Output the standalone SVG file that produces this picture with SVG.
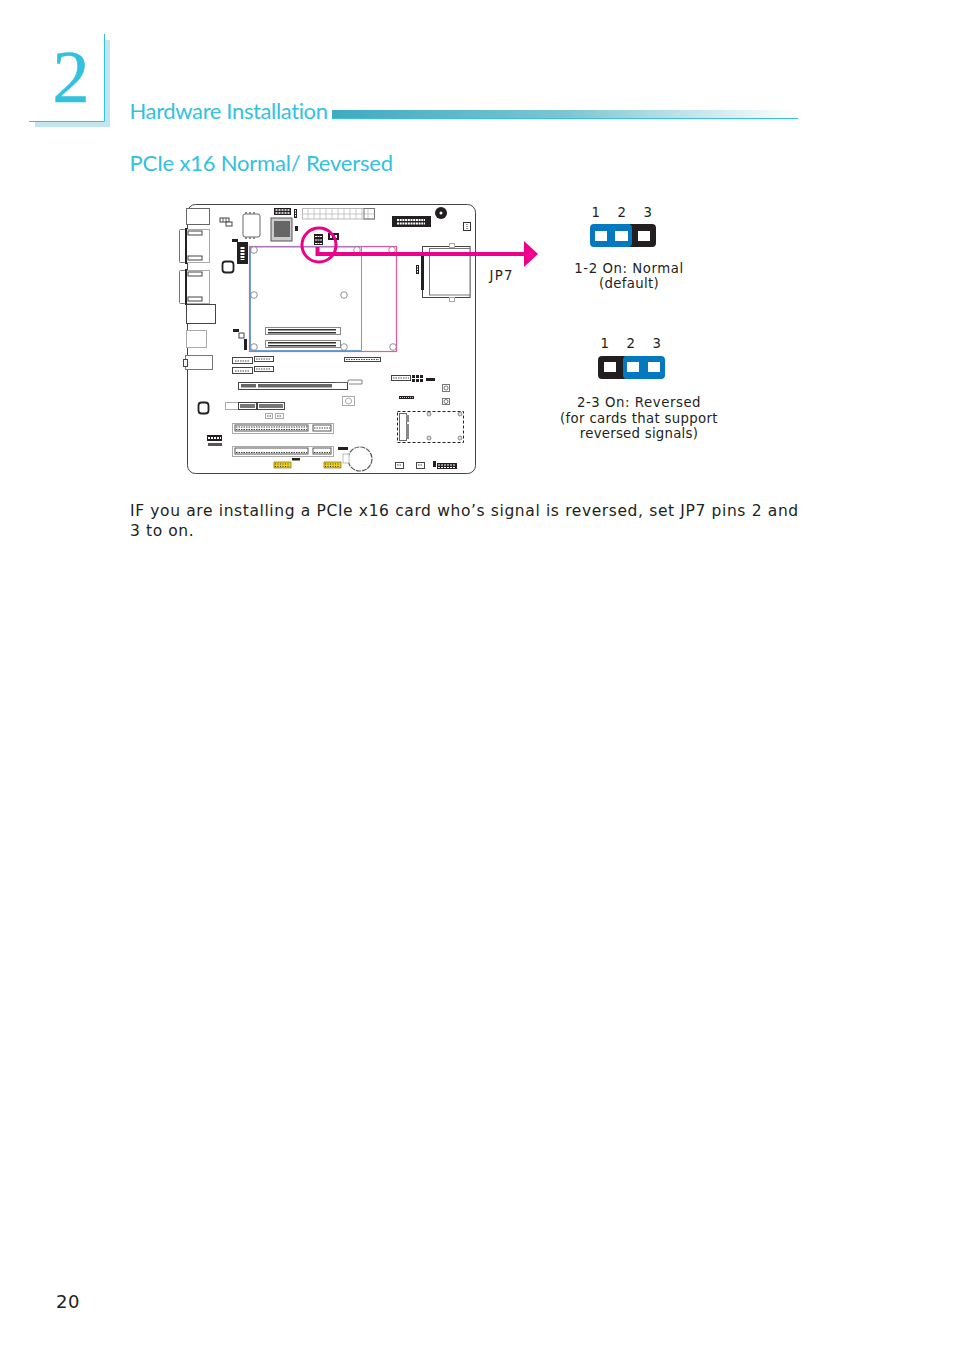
<svg xmlns="http://www.w3.org/2000/svg" width="954" height="1350" viewBox="0 0 954 1350">
<style>
.t{font-family:"DejaVu Sans","Liberation Sans",sans-serif;fill:#231f20;font-size:13.3px;letter-spacing:.55px}
.m{text-anchor:middle}
.h{font-family:Lato,"Open Sans",sans-serif;fill:#33c1de;font-variant-ligatures:none;font-weight:400}
.o{fill:#fff;stroke:#444;stroke-width:1}
.g{fill:#fff;stroke:#aaa;stroke-width:1}
.b{fill:#231f20}
.w{fill:#fff}
.y{fill:#f2d21b;stroke:#5a5012;stroke-width:.6}
.d{fill:none;stroke:#fff;stroke-width:2;stroke-dasharray:2 1}
.yd{fill:none;stroke:#3a3410;stroke-width:1;stroke-dasharray:1 1.500}
.s{fill:none;stroke:#444;stroke-width:1;stroke-dasharray:1.500 1}
.c{fill:#fff;stroke:#555;stroke-width:1}
.sl{fill:#fff;stroke:#444;stroke-width:1.400}
</style>
<defs>
<linearGradient id="bar" x1="0" x2="1" y1="0" y2="0">
<stop offset="0" stop-color="#3fabbf"/><stop offset=".5" stop-color="#7cc5d3"/><stop offset="1" stop-color="#fff"/>
</linearGradient>
</defs>

<g id="chapter-mark">
<rect x="105" y="40" width="5" height="87" fill="#c2e6f0"/>
<rect x="35" y="122" width="75" height="5" fill="#c2e6f0"/>
<path d="M104.500 34V121.500H29" fill="none" stroke="#33c1de" stroke-width="1"/>
<text x="52.500" y="102" font-family="Liberation Serif,serif" font-size="74" fill="#33c1de" stroke="#33c1de" stroke-width=".5">2</text>
</g>
<g id="header">
<text x="129.500" y="119" class="h" font-size="22" textLength="198.500">Hardware Installation</text>
<rect x="332" y="110" width="466" height="8" fill="url(#bar)"/>
<rect x="332" y="118" width="466" height="1" fill="#33c1de"/>
<text x="129.500" y="171" class="h" font-size="22" textLength="263.500">PCIe x16 Normal/ Reversed</text>
</g>

<g id="board">
<rect x="187.500" y="204.500" width="288" height="269" rx="8" fill="#fff" stroke="#444" stroke-width="1"/>
<rect x="186.500" y="208.500" width="23" height="16" class="o" style="stroke:#666"/>
<rect x="220" y="218" width="9" height="4" class="o"/><path d="M223 218v4M226 218v4" stroke="#444" stroke-width=".8"/><rect x="226" y="222" width="6" height="4" class="o"/>
<rect x="243" y="214" width="17" height="23" rx="2" class="o" style="stroke:#666"/>
<path d="M246 212v2M250 212v2M254 212v2M246 237v2M250 237v2M254 237v2" stroke="#888" stroke-width="2"/>
<rect x="274" y="208" width="17" height="7" class="b"/><path d="M275.500 210h14M275.500 213h14" stroke="#fff" stroke-width="1.300" stroke-dasharray="2 1"/>
<rect x="294" y="209" width="3" height="9" class="b"/><path d="M295.500 210v7" stroke="#fff" stroke-dasharray="1.500 1"/>
<rect x="271" y="218" width="21" height="23" fill="#ccc" stroke="#555"/><rect x="274" y="221" width="16" height="16" fill="#666"/>
<rect x="295" y="226" width="3" height="5" class="b"/>
<rect x="302.500" y="208.500" width="72" height="10.500" fill="#fff" stroke="#bbb"/>
<path d="M308 209v10M314 209v10M320 209v10M326 209v10M332 209v10M338 209v10M344 209v10M350 209v10M356 209v10M362 209v10M368 209v10M302 214h72" stroke="#bbb" stroke-width=".8"/>
<rect x="364" y="208.500" width="10.500" height="10.500" fill="none" stroke="#777"/>
<rect x="232" y="239" width="6" height="3" class="b"/>
<rect x="237" y="242" width="11" height="22" class="b"/><path d="M242.500 247v13" stroke="#fff" stroke-width="4" stroke-dasharray="2 1"/>
<rect x="222.500" y="261.500" width="11" height="11" rx="3" fill="#fff" stroke="#222" stroke-width="1.800"/>

<rect x="179.500" y="229.500" width="6" height="33" rx="1" class="g" style="stroke:#777"/>
<rect x="185.500" y="229.500" width="24" height="33" class="g"/>
<rect x="185" y="228" width="2" height="36" class="b"/>
<rect x="188" y="231" width="14" height="4" class="o"/><rect x="188" y="256" width="14" height="4" class="o"/>
<rect x="179.500" y="270.500" width="6" height="33" rx="1" class="g" style="stroke:#777"/>
<rect x="185.500" y="270.500" width="24" height="33" class="g"/>
<rect x="185" y="269" width="2" height="36" class="b"/>
<rect x="188" y="272" width="14" height="4" class="o"/><rect x="188" y="297" width="14" height="4" class="o"/>
<rect x="186.500" y="304.500" width="29" height="19" class="o"/>
<rect x="186.500" y="330.500" width="20" height="17" class="g"/>
<rect x="185.500" y="355.500" width="27" height="14" class="o" style="stroke:#777"/>
<rect x="183.500" y="359.500" width="4" height="7" class="o"/>

<rect x="233" y="329" width="6" height="3" class="b"/><rect x="239" y="333" width="5" height="5" class="o"/>
<rect x="244" y="339" width="3" height="11" class="b"/>
</g>

<g id="pcie-area">
<rect x="249.500" y="246.500" width="147" height="105" fill="none" stroke="#e9559f" stroke-width="1.200"/>
<path d="M250.500 350.500V247H361.500V350.500H250.500" fill="none" stroke="#6f9fd2" stroke-width="1"/>
<g fill="#fff" stroke="#777" stroke-width=".8">
<circle cx="254" cy="250" r="3.300"/><circle cx="254" cy="295" r="3.300"/><circle cx="344" cy="295" r="3.300"/><circle cx="357" cy="250" r="3.300"/><circle cx="392" cy="250" r="3.300"/><circle cx="254" cy="347" r="3.300"/><circle cx="344" cy="347" r="3.300"/><circle cx="393" cy="347" r="3.300"/>
</g>
<rect x="265.500" y="327.500" width="75" height="7" class="c" style="stroke:#888"/><rect x="268" y="329" width="68" height="1.500" fill="#333"/><rect x="268" y="332" width="68" height="1.500" fill="#333"/>
<rect x="265.500" y="340.500" width="75" height="7" class="c" style="stroke:#888"/><rect x="268" y="342" width="68" height="1.500" fill="#333"/><rect x="268" y="345" width="68" height="1.500" fill="#333"/>
</g>

<g id="jp7-pins">
<rect x="314" y="234" width="9" height="11" class="b"/>
<path d="M315 236.500h7M315 240h7M315 243.500h7" stroke="#fff" stroke-width="1.200" stroke-dasharray="2 .5"/>
<rect x="328" y="233" width="11" height="7" class="b"/><rect x="330" y="235" width="2" height="3" class="w"/><rect x="335" y="235" width="2" height="3" class="w"/>
</g>

<g id="board-right">
<rect x="392" y="216" width="39" height="11" class="b"/><path d="M397 220h28M397 223.500h28" stroke="#fff" stroke-width="2" stroke-dasharray="2 .7"/>
<circle cx="441" cy="213" r="6" class="b"/><circle cx="441" cy="213" r="1.500" class="w"/>
<rect x="463.500" y="222.500" width="7" height="8" class="o" style="stroke:#333"/><path d="M467 224v5" stroke="#333" stroke-dasharray="1 1"/>
<rect x="422.500" y="246.500" width="47.500" height="51" fill="#fff" stroke="#444"/>
<rect x="429.500" y="248.500" width="40.500" height="46.500" fill="#fff" stroke="#777"/>
<rect x="421" y="256" width="3" height="34" class="b"/>
<rect x="449.500" y="243.500" width="5" height="4" class="g"/><rect x="449.500" y="297.500" width="5" height="4" class="g"/>
<rect x="416" y="265" width="3" height="9" class="b"/><path d="M417.500 266v7" stroke="#fff" stroke-dasharray="1.500 1"/>
</g>

<g id="slots">
<rect x="232.500" y="357.500" width="20" height="6" class="o"/><path class="s" d="M235 361h15"/>
<rect x="254.500" y="356.500" width="19" height="5" class="o"/><path class="s" d="M256 359h15"/>
<rect x="232.500" y="367.500" width="20" height="6" class="o"/><path class="s" d="M235 371h15"/>
<rect x="254.500" y="366.500" width="19" height="5" class="o"/><path class="s" d="M256 369h15"/>
<rect x="344.500" y="357.500" width="36" height="4" class="o"/><path class="s" d="M346 359.500h33"/>
<rect x="238.500" y="382.500" width="109" height="7" class="o"/>
<rect x="241" y="384" width="15" height="3.500" fill="#666"/><rect x="258" y="384" width="74" height="3.500" fill="#666"/>
<path d="M335 382.500H348V380H362V384H349" fill="none" stroke="#666" stroke-width=".8"/>
<rect x="198.500" y="402.500" width="10" height="11" rx="3" fill="#fff" stroke="#222" stroke-width="1.800"/>
<rect x="225.500" y="402.500" width="13" height="7" class="g"/>
<rect x="238.500" y="402.500" width="18" height="7" class="o"/><rect x="240" y="404" width="15" height="4" fill="#777"/>
<rect x="257.500" y="402.500" width="27" height="7" class="o"/><rect x="259" y="404" width="24" height="4" fill="#777"/>
<rect x="265.500" y="413.500" width="7" height="5" class="g"/><rect x="275.500" y="413.500" width="8" height="5" class="g"/>
<path class="s" d="M267 416h4M277 416h5"/>
<rect x="232.500" y="423.500" width="101" height="10" class="g"/>
<rect x="235" y="425" width="73" height="6" class="c"/><rect x="313" y="425" width="18" height="6" class="c"/><path class="s" d="M236 427h71M236 429.500h71M314 428h16"/>
<rect x="232.500" y="446.500" width="101" height="10" class="g"/>
<rect x="235" y="448" width="73" height="6" class="c"/><rect x="313" y="448" width="18" height="6" class="c"/><path class="s" d="M236 452.500h71M314 452.500h16"/>
<rect x="207" y="435" width="15" height="6" class="b"/><path class="d" d="M208 438h13"/>
<rect x="208" y="443" width="14" height="3" fill="#555"/>
<rect x="274" y="462" width="17" height="6" class="y"/><path class="yd" d="M275 464h15M275 466.500h15"/>
<rect x="324" y="462" width="17" height="6" class="y"/><path class="yd" d="M325 464h15M325 466.500h15"/>
<rect x="292" y="458" width="8" height="2.500" class="b"/>
<rect x="338" y="447" width="10" height="3" class="b"/>
<path d="M348 458a12 12 0 1 1 0 2" fill="#fff" stroke="#555" stroke-width="1.200" stroke-dasharray="5 1"/>
<rect x="343" y="454" width="6" height="9" fill="#fff" stroke="#aaa" stroke-width=".8"/>
<rect x="342.500" y="396.500" width="12" height="9" class="g"/><circle cx="348.500" cy="401" r="3" fill="none" stroke="#aaa"/>
</g>

<g id="lower-right">
<rect x="391.500" y="375.500" width="19" height="5" class="o"/><path class="s" d="M393 378h16"/>
<rect x="412" y="375" width="11" height="7" class="b"/><path d="M415.500 375v7M419.500 375v7M412 378.500h11" stroke="#fff"/>
<rect x="426" y="378" width="9" height="3" class="b"/>
<rect x="442.500" y="384.500" width="7" height="7" class="o" style="stroke:#777"/><circle cx="446" cy="388" r="2" fill="none" stroke="#777"/>
<rect x="442.500" y="398.500" width="7" height="6" class="o" style="stroke:#777"/><circle cx="446" cy="401.500" r="2" fill="none" stroke="#777"/>
<rect x="399" y="396" width="15" height="3" class="b"/><path d="M400 397.500h13" stroke="#fff" stroke-width=".8" stroke-dasharray="1 1"/>
<rect x="397.500" y="411.500" width="66" height="31" fill="#fff" stroke="#222" stroke-width="1" stroke-dasharray="3 2"/>
<rect x="399.500" y="413.500" width="7" height="27" class="o" style="stroke:#666"/><rect x="406" y="415" width="3" height="7" fill="#888"/><rect x="406" y="424" width="3" height="15" fill="#888"/>
<g fill="#ddd" stroke="#777" stroke-width=".8"><circle cx="429" cy="414" r="2"/><circle cx="460" cy="414" r="2"/><circle cx="429" cy="438" r="2"/><circle cx="460" cy="438" r="2"/></g>
<rect x="395.500" y="462.500" width="8" height="6" class="o"/><path class="s" d="M397 465h5"/>
<rect x="416.500" y="462.500" width="8" height="6" class="o"/><path class="s" d="M418 465h5"/>
<rect x="433" y="461" width="3" height="6" class="b"/>
<rect x="437" y="463" width="20" height="6" class="b"/><path d="M438 465h18M438 467.500h18" stroke="#fff" stroke-width="1.200" stroke-dasharray="2 1"/>
</g>

<g id="connectors">
<circle cx="319" cy="245" r="17" fill="none" stroke="#ec008c" stroke-width="3"/>
<path d="M317.500 247V254H526" fill="none" stroke="#ec008c" stroke-width="4"/>
<path d="M524 241L538 254L524 267Z" fill="#ec008c"/>
</g>
<text x="489.500" y="280" class="t" style="letter-spacing:1.300px">JP7</text>

<g id="jumper-normal">
<text x="596" y="217" class="t m">1</text><text x="622" y="217" class="t m">2</text><text x="648" y="217" class="t m">3</text>
<rect x="626" y="224" width="30" height="23" rx="4" class="b"/>
<rect x="590" y="224" width="42" height="23" rx="4" fill="#0579bf"/>
<rect x="595" y="231" width="12" height="10" class="w"/><rect x="615" y="231" width="13" height="10" class="w"/><rect x="638" y="231" width="12" height="10" class="w"/>
<text x="629" y="273" class="t m">1-2 On: Normal</text>
<text x="629" y="288" class="t m" style="letter-spacing:.3px">(default)</text>
</g>
<g id="jumper-reversed">
<text x="605" y="348" class="t m">1</text><text x="631" y="348" class="t m">2</text><text x="657" y="348" class="t m">3</text>
<rect x="598" y="356" width="30" height="23" rx="4" class="b"/>
<rect x="623" y="356" width="42" height="23" rx="4" fill="#0579bf"/>
<rect x="604" y="362" width="12" height="10" class="w"/><rect x="627" y="362" width="12" height="10" class="w"/><rect x="648" y="362" width="12" height="10" class="w"/>
<text x="639" y="407" class="t m">2-3 On: Reversed</text>
<text x="639" y="423" class="t m" style="letter-spacing:.33px">(for cards that support</text>
<text x="639" y="438" class="t m" style="letter-spacing:.25px">reversed signals)</text>
</g>
<g id="body">
<text x="130" y="516" class="t" style="font-size:15.500px;letter-spacing:.6px" word-spacing=".12">IF you are installing a PCIe x16 card who’s signal is reversed, set JP7 pins 2 and</text>
<text x="130" y="536" class="t" style="font-size:15.500px;letter-spacing:.6px">3 to on.</text>
<text x="56" y="1308" class="t" style="font-size:18px;letter-spacing:.6px">20</text>
</g>
</svg>
